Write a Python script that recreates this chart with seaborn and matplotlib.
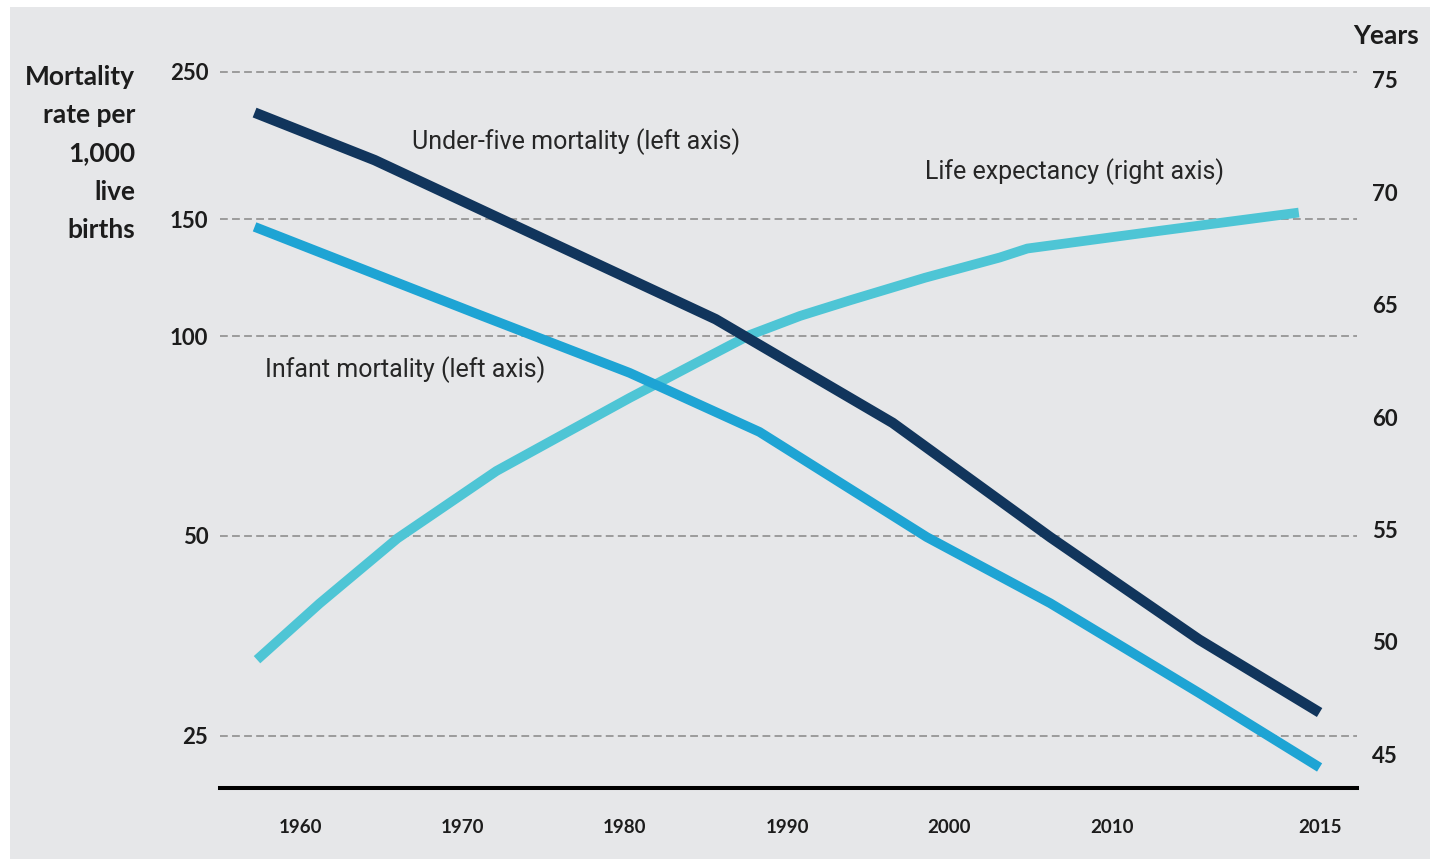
import numpy as np
import matplotlib
matplotlib.use("Agg")
import matplotlib.pyplot as plt
from matplotlib.patches import Rectangle
from matplotlib.ticker import NullLocator, NullFormatter
import seaborn as sns

# ---- data -------------------------------------------------------------
# Under-five mortality, deaths per 1,000 live births (left, log axis)
under5_years = [1957.2, 1964.6, 1985.6, 1996.5, 2006.2, 2012.1, 2015.0]
under5_rate = [217, 184, 106, 74, 49.8, 34.9, 27.1]

# Infant mortality, deaths per 1,000 live births (left, log axis)
infant_years = [1957.2, 1971.1, 1980.3, 1988.3, 1998.6, 2006.2, 2012.1, 2015.0]
infant_rate = [146, 107.5, 88.0, 71.7, 49.8, 39.6, 29.0, 22.4]

# Life expectancy at birth, years (right axis)
life_years = [1957.35, 1961.2, 1966.0, 1972.1, 1980.3, 1984.65, 1987.7, 1990.8,
              1993.9, 1998.5, 2003.1, 2004.8, 2011.2, 2014.5]
life_exp = [49.2, 51.7, 54.6, 57.6, 60.85, 62.5, 63.65, 64.5,
            65.2, 66.2, 67.1, 67.5, 68.3, 69.1]

year_ticks = [1960, 1970, 1980, 1990, 2000, 2010, 2015]
year_labels = ["1960", "1970", "1980", "1990", "2000", "2010", "2015"]
mortality_ticks = [25, 50, 100, 150, 250]
mortality_labels = ["25", "50", "100", "150", "250"]
life_ticks = [45, 50, 55, 60, 65, 70, 75]
life_labels = ["45", "50", "55", "60", "65", "70", "75"]

# ---- style ------------------------------------------------------------
BG = "#e6e7e9"
NAVY = "#11355c"
BLUE = "#1ea4d4"
CYAN = "#4ec5d5"
INK = "#1c1c1c"

sns.set_style("white")
plt.rcParams["font.family"] = ["Lato", "DejaVu Sans"]

# the last five years get a wider stretch of the axis
STRETCH = 2.56


def fwd(x):
    x = np.asarray(x, dtype=float)
    return np.where(x <= 2010, x, 2010 + (x - 2010) * STRETCH)


def inv(x):
    x = np.asarray(x, dtype=float)
    return np.where(x <= 2010, x, 2010 + (x - 2010) / STRETCH)


fig = plt.figure(figsize=(14.30, 8.59), dpi=100, facecolor="white")
fig.patches.append(Rectangle((10 / 1430, 0), 1, 1 - 7 / 859, transform=fig.transFigure,
                             facecolor=BG, edgecolor="none", zorder=-10))

rect = [220 / 1430, 71 / 859, 1137 / 1430, 728 / 859]
ax = fig.add_axes(rect)
ax.patch.set_visible(False)
ax.set_xscale("function", functions=(fwd, inv))
ax.set_yscale("log")

# life expectancy sits below the mortality lines
ax_life = ax.twinx()
ax_life.patch.set_visible(False)
ax_mort = fig.add_axes(rect, sharex=ax, sharey=ax)
ax_mort.set_axis_off()
ax_mort.patch.set_visible(False)

sns.lineplot(x=life_years, y=life_exp, ax=ax_life, color=CYAN, linewidth=7,
             solid_capstyle="butt", solid_joinstyle="round")
sns.lineplot(x=infant_years, y=infant_rate, ax=ax_mort, color=BLUE, linewidth=7,
             solid_capstyle="butt", solid_joinstyle="round")
sns.lineplot(x=under5_years, y=under5_rate, ax=ax_mort, color=NAVY, linewidth=7.5,
             solid_capstyle="butt", solid_joinstyle="round")

ax.set_xlim(1955.07, 2015.9)
ax.set_ylim(20.86, 260.4)
ax_life.set_ylim(43.49, 75.89)

ax.set_xticks(year_ticks)
ax.set_xticklabels(year_labels)
ax.xaxis.set_minor_locator(NullLocator())
ax.set_yticks(mortality_ticks)
ax.set_yticklabels(mortality_labels)
ax.yaxis.set_minor_locator(NullLocator())
ax.yaxis.set_minor_formatter(NullFormatter())
ax_life.set_yticks(life_ticks)
ax_life.set_yticklabels(life_labels)

for a in (ax, ax_life, ax_mort):
    a.set_xlabel("")
    a.set_ylabel("")

ax.grid(False)
ax.grid(axis="y", which="major", color="#9b9b9b", linestyle=(0, (4, 2.2)), linewidth=1.4)
ax_life.grid(False)

ax.tick_params(axis="x", length=0, pad=22, labelsize=13.5, labelcolor=INK)
ax.tick_params(axis="y", length=0, pad=8.5, labelsize=16, labelcolor=INK)
ax_life.tick_params(axis="y", length=0, pad=11, labelsize=16, labelcolor=INK)
for t in ax.get_xticklabels() + ax.get_yticklabels() + ax_life.get_yticklabels():
    t.set_fontweight("bold")

for s in ax.spines.values():
    s.set_visible(False)
for s in ax_life.spines.values():
    s.set_visible(False)
ax.spines["bottom"].set_visible(True)
ax.spines["bottom"].set_color("black")
ax.spines["bottom"].set_linewidth(2.9)

# axis titles
fig.text(135 / 1430, 1 - 153.5 / 859, "Mortality\nrate per\n1,000\nlive\nbirths",
         ha="right", va="center", multialignment="right", fontsize=19,
         fontweight="bold", color=INK, linespacing=1.72)
fig.text(1386 / 1430, 1 - 36 / 859, "Years", ha="center", va="center",
         fontsize=19, fontweight="bold", color=INK)

# series labels
note_kw = dict(ha="left", va="center", fontsize=18, color="#262626",
               family=["Roboto", "DejaVu Sans"], fontweight="normal")
fig.text(412 / 1430, 1 - 142 / 859, "Under-five mortality (left axis)", **note_kw)
fig.text(925 / 1430, 1 - 172 / 859, "Life expectancy (right axis)", **note_kw)
fig.text(265 / 1430, 1 - 370 / 859, "Infant mortality (left axis)", **note_kw)

fig.savefig("out.png", dpi=100, facecolor=fig.get_facecolor())
